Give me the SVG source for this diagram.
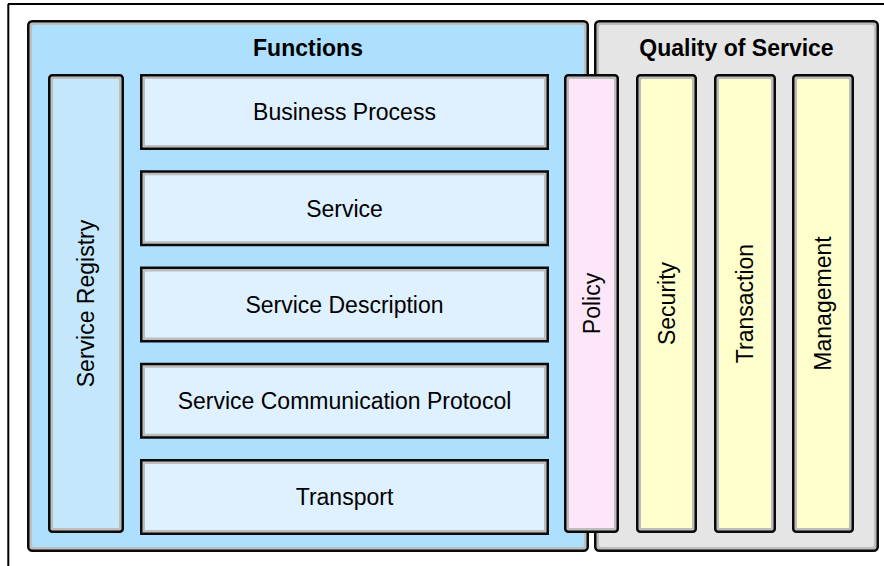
<svg xmlns="http://www.w3.org/2000/svg" width="884" height="566" viewBox="0 0 884 566">
<style>
.o{stroke:#0a0a0a;stroke-width:2.5;fill:#bdbdbd}
.t{font-family:"Liberation Sans",Arial,sans-serif;font-size:23px;fill:#000;text-anchor:middle}
.b{font-weight:bold}
.fn{fill:#ade0fe}
.qs{fill:#e5e5e5}
.bx{fill:#dff0fe}
.reg{fill:#c5e7fb}
.pol{fill:#fde6f8}
.yl{fill:#ffffcd}
</style>
<rect width="884" height="566" fill="#fff"/>
<g id="frame">
<line x1="8" y1="4" x2="884" y2="4" stroke="#000" stroke-width="2"/>
<line x1="8.3" y1="4" x2="8.3" y2="566" stroke="#000" stroke-width="2"/>
</g>
<g id="functions">
<rect class="o" x="28.25" y="21.25" width="559.5" height="529.5" rx="4"/>
<rect class="fn" x="32" y="25" width="552" height="522" rx="2"/>
<text class="t b" x="308" y="56">Functions</text>
</g>
<g id="quality">
<rect class="o" x="595.25" y="21.25" width="282.5" height="529.5" rx="4"/>
<rect class="qs" x="599" y="25" width="275" height="522" rx="2"/>
<text class="t b" x="736.5" y="56">Quality of Service</text>
</g>
<g id="registry">
<rect class="o" x="49.25" y="75.25" width="73.5" height="456.5" rx="3"/>
<rect class="reg" x="53" y="79" width="66" height="449" rx="1"/>
<text class="t" transform="translate(94.3,303.5) rotate(-90)">Service Registry</text>
</g>
<g id="business-process">
<rect class="o" x="141.25" y="75.25" width="406.5" height="73.5"/>
<rect class="bx" x="145" y="79" width="399" height="66"/>
<text class="t" x="344.5" y="120.3">Business Process</text>
</g>
<g id="service">
<rect class="o" x="141.25" y="171.5" width="406.5" height="73.5"/>
<rect class="bx" x="145" y="175.25" width="399" height="66"/>
<text class="t" x="344.5" y="216.5">Service</text>
</g>
<g id="service-description">
<rect class="o" x="141.25" y="267.75" width="406.5" height="73.5"/>
<rect class="bx" x="145" y="271.5" width="399" height="66"/>
<text class="t" x="344.5" y="312.8">Service Description</text>
</g>
<g id="service-communication-protocol">
<rect class="o" x="141.25" y="364" width="406.5" height="73.5"/>
<rect class="bx" x="145" y="367.75" width="399" height="66"/>
<text class="t" x="344.5" y="409">Service Communication Protocol</text>
</g>
<g id="transport">
<rect class="o" x="141.25" y="460.25" width="406.5" height="73.5"/>
<rect class="bx" x="145" y="464" width="399" height="66"/>
<text class="t" x="344.5" y="505.3">Transport</text>
</g>
<g id="policy">
<rect class="o" x="565.25" y="75.25" width="52.5" height="456.5" rx="3"/>
<rect class="pol" x="569" y="79" width="45" height="449" rx="1"/>
<text class="t" transform="translate(599.8,303.5) rotate(-90)">Policy</text>
</g>
<g id="security">
<rect class="o" x="637.25" y="75.25" width="58.5" height="456.5" rx="3"/>
<rect class="yl" x="641" y="79" width="51" height="449" rx="1"/>
<text class="t" transform="translate(674.8,303.5) rotate(-90)">Security</text>
</g>
<g id="transaction">
<rect class="o" x="715.25" y="75.25" width="59.5" height="456.5" rx="3"/>
<rect class="yl" x="719" y="79" width="52" height="449" rx="1"/>
<text class="t" transform="translate(753.3,303.5) rotate(-90)">Transaction</text>
</g>
<g id="management">
<rect class="o" x="793.25" y="75.25" width="59.5" height="456.5" rx="3"/>
<rect class="yl" x="797" y="79" width="52" height="449" rx="1"/>
<text class="t" transform="translate(831.3,303.5) rotate(-90)">Management</text>
</g>
<g id="connectors"></g>
</svg>
